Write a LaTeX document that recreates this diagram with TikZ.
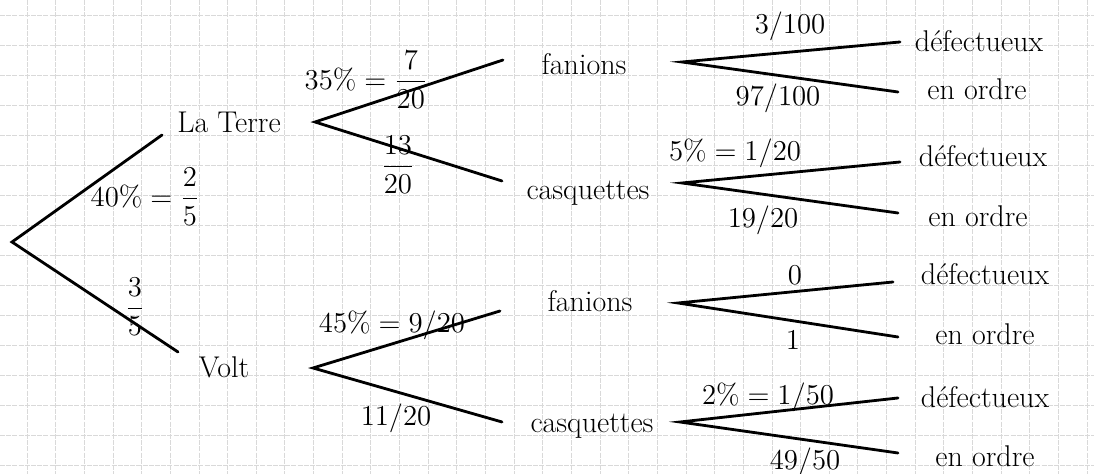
\documentclass[tikz,border=0pt]{standalone}
\usepackage{amsmath,amssymb}
\usepackage{tikz}
\usetikzlibrary{positioning}

\tikzset{
  quadrillage/.style={gray!30, line width=0.4pt, dash pattern=on 2.5pt off 0.6pt},
  branche/.style={line width=1.4pt, line cap=round},
  issue/.style={font=\fontsize{15}{17}\selectfont, anchor=base, inner sep=1pt},
  proba/.style={font=\fontsize{14}{16}\selectfont, inner sep=1pt}
}

\begin{document}
\begin{tikzpicture}[x=0.5pt, y=-0.5pt]
  \useasboundingbox (0,0) rectangle (1094,474);
  % papier quadrille
  \foreach \i in {0,...,37} \draw[quadrillage] ({27+28.65*\i},0) -- ({27+28.65*\i},474);
  \foreach \j in {0,...,15} \draw[quadrillage] (0,{15+30*\j}) -- (1094,{15+30*\j});

  % points de l'arbre
  \coordinate (racine) at (12,242);
  \coordinate (terreIn) at (162,135);  \coordinate (terreOut) at (315,122);
  \coordinate (voltIn) at (178,352);   \coordinate (voltOut) at (313,368);
  \coordinate (fanTIn) at (503,60);    \coordinate (fanTOut) at (682,62);
  \coordinate (casTIn) at (502,181);   \coordinate (casTOut) at (682,183);
  \coordinate (fanVIn) at (500,311);   \coordinate (fanVOut) at (678,303);
  \coordinate (casVIn) at (502,422);   \coordinate (casVOut) at (680,422);
  \coordinate (def1) at (900,42);  \coordinate (ord1) at (898,92);
  \coordinate (def2) at (900,162); \coordinate (ord2) at (898,213);
  \coordinate (def3) at (893,282); \coordinate (ord3) at (898,337);
  \coordinate (def4) at (898,398); \coordinate (ord4) at (898,453);

  % issues
  \node[issue] (terre) at (229,133) {La Terre};
  \node[issue] (volt) at (224,378) {Volt};
  \node[issue] (fanT) at (584,75) {fanions};
  \node[issue] (casT) at (588,200) {casquettes};
  \node[issue] (fanV) at (590,312) {fanions};
  \node[issue] (casV) at (592,433) {casquettes};
  \node[issue] (txtDef1) at (979,52) {défectueux};
  \node[issue] (txtOrd1) at (977,100) {en ordre};
  \node[issue] (txtDef2) at (983,167) {défectueux};
  \node[issue] (txtOrd2) at (978,227) {en ordre};
  \node[issue] (txtDef3) at (985,285) {défectueux};
  \node[issue] (txtOrd3) at (985,345) {en ordre};
  \node[issue] (txtDef4) at (985,408) {défectueux};
  \node[issue] (txtOrd4) at (985,467) {en ordre};

  % branches
  \draw[branche] (terreIn) -- (racine) -- (voltIn);
  \draw[branche] (fanTIn) -- (terreOut) -- (casTIn);
  \draw[branche] (fanVIn) -- (voltOut) -- (casVIn);
  \draw[branche] (def1) -- (fanTOut) -- (ord1);
  \draw[branche] (def2) -- (casTOut) -- (ord2);
  \draw[branche] (def3) -- (fanVOut) -- (ord3);
  \draw[branche] (def4) -- (casVOut) -- (ord4);

  % probabilites
  \node[proba] (pTerre) at (145,197) {$40\% = \dfrac{2}{5}$};
  \node[proba] (pVolt) at (135,307) {$\dfrac{3}{5}$};
  \node[proba] (pFanT) at (366,80) {$35\% = \dfrac{7}{20}$};
  \node[proba] (pCasT) at (398,165) {$\dfrac{13}{20}$};
  \node[proba] (pFanV) at (392,325) {$45\% = 9/20$};
  \node[proba] (pCasV) at (396,418) {$11/20$};
  \node[proba] (pDef1) at (790,26) {$3/100$};
  \node[proba] (pOrd1) at (778,98) {$97/100$};
  \node[proba] (pDef2) at (735,153) {$5\% = 1/20$};
  \node[proba] (pOrd2) at (763,220) {$19/20$};
  \node[proba] (pDef3) at (795,275) {$0$};
  \node[proba] (pOrd3) at (793,340) {$1$};
  \node[proba] (pDef4) at (768,397) {$2\% = 1/50$};
  \node[proba] (pOrd4) at (805,462) {$49/50$};
\end{tikzpicture}
\end{document}
